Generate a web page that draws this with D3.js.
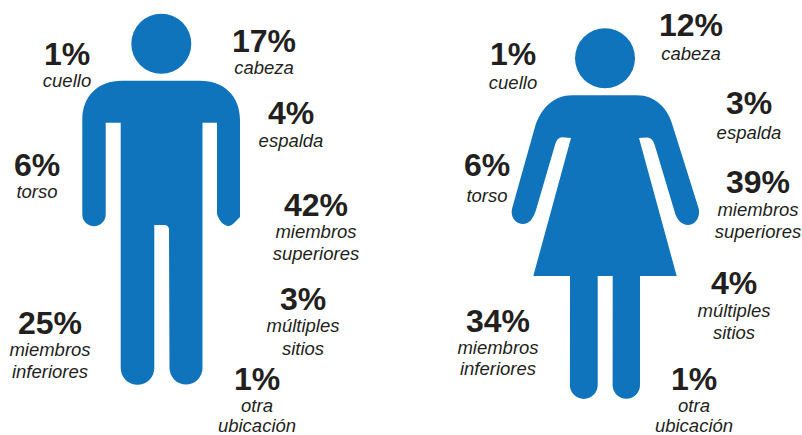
<!DOCTYPE html>
<html lang="es">
<head>
    <meta charset="utf-8">
    <title>Lesiones por sexo</title>
    <script src="https://d3js.org/d3.v7.min.js"></script>
    <style>
        html, body { margin: 0; padding: 0; background: #fff; }
        svg { display: block; }
        .value { font: bold 32px "Liberation Sans", Arial, sans-serif; fill: #231f20; text-anchor: middle; }
        .name { font: italic 18.5px "Liberation Sans", Arial, sans-serif; fill: #231f20; text-anchor: middle; }
    </style>
</head>
<body>
    <svg id="chart"></svg>
    <script>
        var categories = [
            ["cabeza"], ["cuello"], ["espalda"], ["torso"],
            ["miembros", "superiores"], ["miembros", "inferiores"],
            ["múltiples", "sitios"], ["otra", "ubicación"]
        ];
        var menValues = [17, 1, 4, 6, 42, 25, 3, 1];
        var womenValues = [12, 1, 3, 6, 39, 34, 4, 1];

        // label placement, same order as categories: [center x, value baseline, first name baseline, line gap]
        var menSpots = [
            [264, 52, 74, 0], [67, 65, 87, 0], [291, 124, 147, 0], [37, 176, 198, 0],
            [316, 216, 238, 22], [50, 334, 356, 22], [303, 310, 332, 23], [257, 390, 412, 20]
        ];
        var womenSpots = [
            [691, 36, 60, 0], [513, 65, 89, 0], [749, 114, 139, 0], [487, 176, 202, 0],
            [758, 193, 216, 22], [498, 332, 354, 21], [734, 294, 317, 22], [694, 390, 412, 20]
        ];

        var width = 802;
        var height = 435;
        var blue = "#1074bc";

        var svg = d3.select("#chart")
            .attr("width", width)
            .attr("height", height);

        function manPath() {
            var p = d3.path();
            p.moveTo(120.7, 80.7);
            p.lineTo(200, 80.7);
            p.bezierCurveTo(224, 80.7, 240, 96, 240, 120);
            p.lineTo(240, 217);
            p.bezierCurveTo(236, 221, 232, 226, 228.5, 226);
            p.bezierCurveTo(224, 226, 219, 221, 217, 214);
            p.lineTo(217, 122.7);
            p.lineTo(202.5, 122.7);
            p.lineTo(202.5, 368);
            p.arc(186, 368, 16.5, 0, Math.PI);
            p.lineTo(169, 230);
            p.quadraticCurveTo(169, 225, 164, 225);
            p.lineTo(154.3, 225);
            p.lineTo(154.3, 368);
            p.arc(137.5, 368, 16.8, 0, Math.PI);
            p.lineTo(120.7, 122.7);
            p.lineTo(105.7, 122.7);
            p.lineTo(105.7, 214.5);
            p.arc(94, 214.5, 11.7, 0, Math.PI);
            p.lineTo(82.3, 120);
            p.bezierCurveTo(82.3, 96, 98, 80.7, 122, 80.7);
            p.closePath();
            return p.toString();
        }

        function womanPath() {
            var p = d3.path();
            p.moveTo(572, 95.3);
            p.lineTo(637, 95.3);
            p.bezierCurveTo(655, 95.3, 668, 108, 673, 126.7);
            p.lineTo(698.5, 208);
            p.bezierCurveTo(701, 217, 695, 225, 688, 225);
            p.bezierCurveTo(682, 225, 677, 220, 675, 213);
            p.lineTo(655, 146);
            p.quadraticCurveTo(653, 137.5, 647, 137.5);
            p.lineTo(639, 138);
            p.lineTo(676.7, 276);
            p.lineTo(640, 276);
            p.lineTo(640, 385);
            p.arc(626.3, 385, 13.7, 0, Math.PI);
            p.lineTo(612.7, 276);
            p.lineTo(597.7, 276);
            p.lineTo(597.7, 385);
            p.arc(583.8, 385, 13.9, 0, Math.PI);
            p.lineTo(570, 276);
            p.lineTo(533.3, 276);
            p.lineTo(571, 138);
            p.lineTo(562, 137.3);
            p.quadraticCurveTo(557, 137.5, 555, 145);
            p.lineTo(536, 210);
            p.bezierCurveTo(533, 219, 529, 224, 523, 224);
            p.bezierCurveTo(515, 224, 509.5, 216, 512.5, 207);
            p.lineTo(535, 126.7);
            p.bezierCurveTo(541, 108, 554, 95.3, 572, 95.3);
            p.closePath();
            return p.toString();
        }

        function drawFigure(pathString, cx, cy) {
            var g = svg.append("g").attr("fill", blue);
            g.append("circle").attr("cx", cx).attr("cy", cy).attr("r", 30);
            g.append("path").attr("d", pathString);
        }

        function drawLabels(values, spots) {
            var groups = svg.append("g").selectAll("g")
                .data(values)
                .enter()
                .append("g");

            groups.append("text")
                .attr("class", "value")
                .attr("x", function (d, i) { return spots[i][0]; })
                .attr("y", function (d, i) { return spots[i][1]; })
                .text(function (d) { return d + "%"; });

            groups.each(function (d, i) {
                d3.select(this).selectAll("text.name")
                    .data(categories[i])
                    .enter()
                    .append("text")
                    .attr("class", "name")
                    .attr("x", spots[i][0])
                    .attr("y", function (line, j) { return spots[i][2] + j * spots[i][3]; })
                    .text(function (line) { return line; });
            });
        }

        drawFigure(manPath(), 161.3, 43.7);
        drawFigure(womanPath(), 605, 58.3);
        drawLabels(menValues, menSpots);
        drawLabels(womenValues, womenSpots);
    </script>
</body>
</html>
